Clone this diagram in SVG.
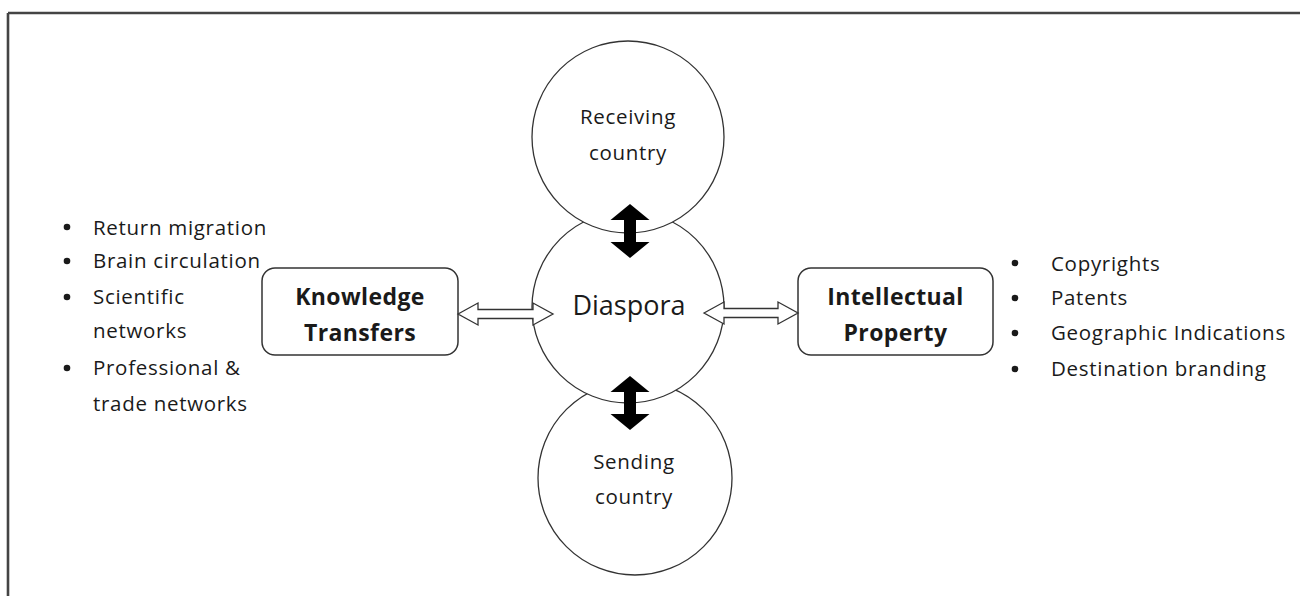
<svg xmlns="http://www.w3.org/2000/svg" width="1300" height="596" viewBox="0 0 1300 596">
  <style>
    .t { font-family: "Open Sans", "Liberation Sans", sans-serif; fill: #1a1a1a; font-variant-ligatures: none; }
    .lst { font-size: 20.5px; letter-spacing: 0.7px; }
    .ctr { text-anchor: middle; }
    .bold { font-weight: bold; font-size: 23px; letter-spacing: 0.4px; }
    .circ { fill: #ffffff; stroke: #333333; stroke-width: 1.3; }
    .box { fill: #ffffff; stroke: #333333; stroke-width: 1.5; }
    .hollow { fill: #ffffff; stroke: #333333; stroke-width: 1.3; stroke-linejoin: miter; }
    .solid { fill: #000000; stroke: none; }
    .dot { fill: #1a1a1a; }
  </style>

  <rect width="1300" height="596" fill="#ffffff"/>

  <!-- frame lines -->
  <g id="frame" stroke="#444444" stroke-width="2.6" fill="none">
    <line x1="8" y1="13" x2="1300" y2="13"/>
    <line x1="8" y1="13" x2="8" y2="596"/>
  </g>

  <!-- circles: later ones overlap earlier ones -->
  <g id="sending">
    <circle class="circ" cx="635" cy="478" r="97"/>
    <text class="t lst ctr" x="634" y="469">Sending</text>
    <text class="t lst ctr" x="634" y="504">country</text>
  </g>
  <g id="diaspora">
    <circle class="circ" cx="628" cy="307" r="96"/>
    <text class="t ctr" x="629" y="315" font-size="27">Diaspora</text>
  </g>
  <g id="receiving">
    <circle class="circ" cx="628" cy="137" r="96"/>
    <text class="t lst ctr" x="628" y="124">Receiving</text>
    <text class="t lst ctr" x="628" y="160">country</text>
  </g>

  <g id="knowledge">
    <rect class="box" x="262" y="268" width="196" height="87" rx="13"/>
    <text class="t bold ctr" x="360" y="305">Knowledge</text>
    <text class="t bold ctr" x="360" y="341">Transfers</text>
  </g>

  <g id="intellectual">
    <rect class="box" x="798" y="268" width="195" height="87" rx="13"/>
    <text class="t bold ctr" x="895.5" y="305">Intellectual</text>
    <text class="t bold ctr" x="895.5" y="341">Property</text>
  </g>

  <!-- connectors -->
  <g id="connectors">
    <polygon class="hollow" points="458,314 478,303 478,309.5 533,309.5 533,303 553,314 533,325 533,318.5 478,318.5 478,325"/>
    <polygon class="hollow" points="704,313 724,302 724,308.5 778,308.5 778,302 798,313 778,324 778,317.5 724,317.5 724,324"/>
    <polygon class="solid" points="630,204 649.5,220 636,220 636,242 649.5,242 630,258 610.5,242 624,242 624,220 610.5,220"/>
    <polygon class="solid" points="630,376 649.5,392 636,392 636,414 649.5,414 630,430 610.5,414 624,414 624,392 610.5,392"/>
  </g>

  <g id="knowledge-list">
    <circle class="dot" cx="67" cy="227" r="3.3"/>
    <circle class="dot" cx="67" cy="261" r="3.3"/>
    <circle class="dot" cx="67" cy="297" r="3.3"/>
    <circle class="dot" cx="67" cy="368" r="3.3"/>
    <text class="t lst" x="93" y="235">Return migration</text>
    <text class="t lst" x="93" y="268">Brain circulation</text>
    <text class="t lst" x="93" y="304">Scientific</text>
    <text class="t lst" x="93" y="338">networks</text>
    <text class="t lst" x="93" y="375">Professional &amp;</text>
    <text class="t lst" x="93" y="411">trade networks</text>
  </g>

  <g id="property-list">
    <circle class="dot" cx="1015" cy="263" r="3.3"/>
    <circle class="dot" cx="1015" cy="298" r="3.3"/>
    <circle class="dot" cx="1015" cy="333" r="3.3"/>
    <circle class="dot" cx="1015" cy="369" r="3.3"/>
    <text class="t lst" x="1051" y="271">Copyrights</text>
    <text class="t lst" x="1051" y="305">Patents</text>
    <text class="t lst" x="1051" y="340">Geographic Indications</text>
    <text class="t lst" x="1051" y="376">Destination branding</text>
  </g>
</svg>
